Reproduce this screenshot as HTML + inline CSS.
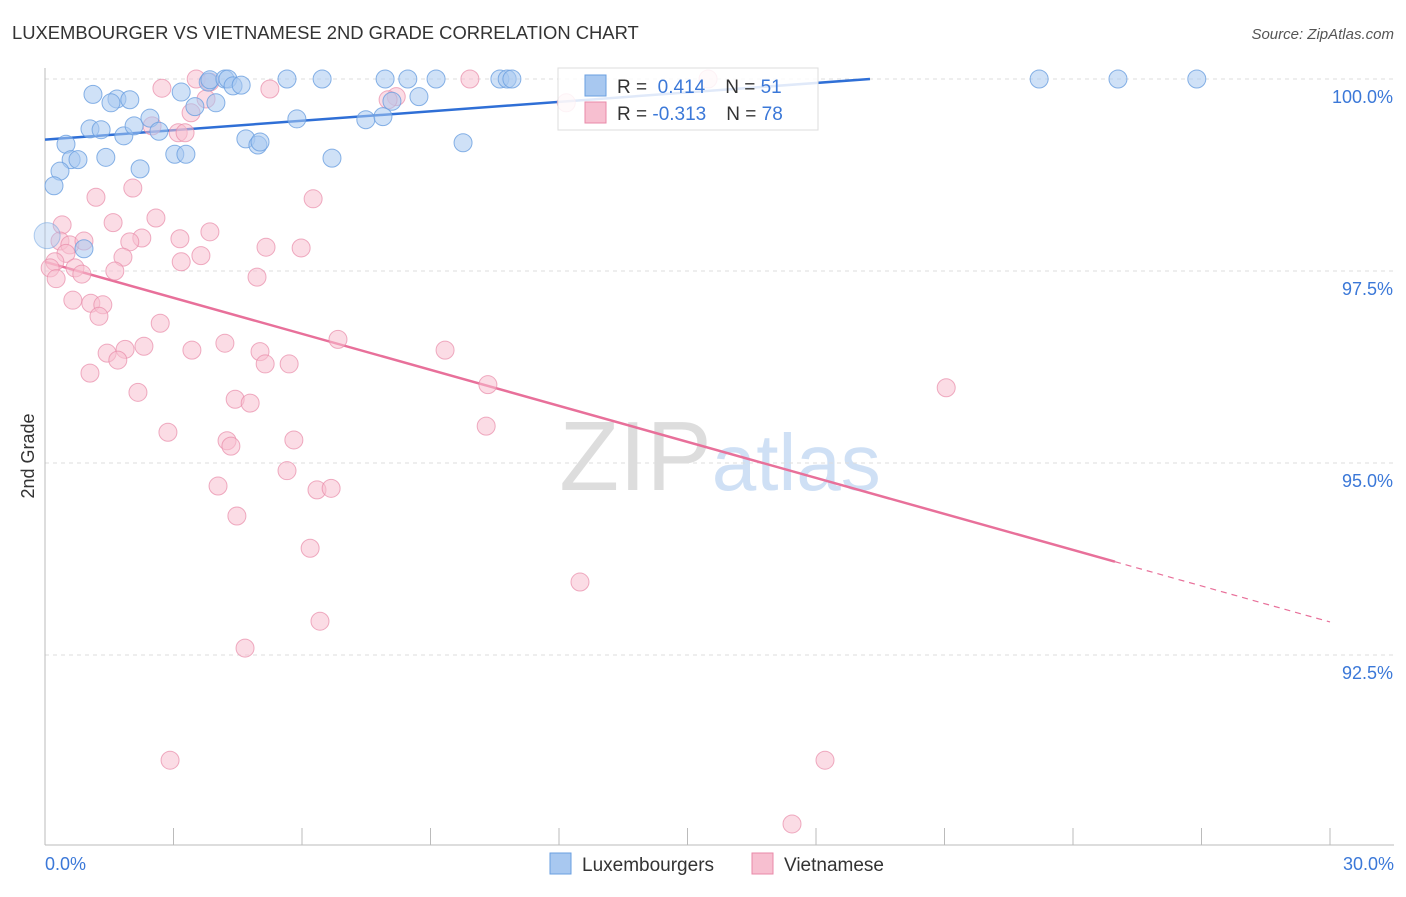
<!DOCTYPE html>
<html><head><meta charset="utf-8"><style>
body{margin:0;background:#fff;font-family:"Liberation Sans",sans-serif;}
svg text{font-family:"Liberation Sans",sans-serif;}
</style></head><body>
<svg id="chart" width="1406" height="892" viewBox="0 0 1406 892" xmlns="http://www.w3.org/2000/svg">
<text x="12" y="39" font-size="18.4" fill="#333">LUXEMBOURGER VS VIETNAMESE 2ND GRADE CORRELATION CHART</text>
<text x="1394" y="39" font-size="15" fill="#555" font-style="italic" text-anchor="end">Source: ZipAtlas.com</text>
<text x="720" y="490" font-size="98" text-anchor="middle" fill="#ddd" font-family="Liberation Serif"><tspan>ZIP</tspan><tspan fill="#cfe0f5" font-family="Liberation Sans" font-size="80">atlas</tspan></text>
<g id="grid"></g><g id="axes"></g><g id="trends"></g><g id="points"></g>
<text transform="translate(34,456) rotate(-90)" font-size="18" fill="#333" text-anchor="middle">2nd Grade</text>
<g>
<rect x="558" y="68" width="260" height="62" fill="#fff" fill-opacity="0.85" stroke="#ddd"/>
<rect x="585" y="75" width="21" height="21" fill="#a8c8f0" stroke="#6a9fe0"/>
<rect x="585" y="102" width="21" height="21" fill="#f7bfd0" stroke="#e88aa8"/>
<text x="617" y="93" font-size="19" fill="#333">R = <tspan fill="#3b78d8">&#160;0.414</tspan><tspan dx="20" fill="#333">N = </tspan><tspan fill="#3b78d8">51</tspan></text>
<text x="617" y="120" font-size="19" fill="#333">R = <tspan fill="#3b78d8">-0.313</tspan><tspan dx="20" fill="#333">N = </tspan><tspan fill="#3b78d8">78</tspan></text>
</g>
<g>
<rect x="550" y="853" width="21" height="21" fill="#a8c8f0" stroke="#6a9fe0"/>
<text x="582" y="871" font-size="19" fill="#333">Luxembourgers</text>
<rect x="752" y="853" width="21" height="21" fill="#f7bfd0" stroke="#e88aa8"/>
<text x="784" y="871" font-size="19" fill="#333">Vietnamese</text>
</g>
</svg>
<script>
const yTicks=[100,97.5,95,92.5];
const yTickLabels=["100.0%","97.5%","95.0%","92.5%"];
const xTickLabels=["0.0%","30.0%"];
const luxX=[1.12,1.68,1.98,1.54,1.05,1.31,0.49,0.61,0.77,1.42,0.35,0.21,1.84,2.08,2.45,2.66,2.22,3.03,3.29,3.18,3.50,3.99,3.81,3.85,4.20,4.27,4.39,4.58,4.69,4.97,5.02,5.65,5.88,6.47,6.70,7.49,7.89,7.94,8.10,8.47,8.73,9.13,9.76,10.62,10.79,10.90,0.91,23.21,25.05,26.89,0.05];
const luxY=[99.80,99.74,99.73,99.69,99.35,99.34,99.15,98.95,98.95,98.98,98.80,98.61,99.26,99.39,99.49,99.32,98.83,99.02,99.02,99.83,99.64,99.69,99.96,99.99,100,100,99.91,99.92,99.22,99.14,99.18,100,99.48,100,98.97,99.47,99.51,100,99.71,100,99.77,100,99.17,100,100,100,97.79,100,100,100,97.96];
const vieX=[2.73,3.53,3.85,5.25,3.76,3.41,3.11,3.27,2.50,2.05,1.19,1.59,2.59,0.40,6.26,3.85,2.26,1.98,3.15,0.35,0.58,0.91,5.16,5.98,3.64,1.82,3.18,0.49,0.23,0.12,0.70,0.86,1.63,0.26,4.95,0.65,1.07,1.35,1.26,2.69,6.84,2.31,1.87,1.45,1.70,3.43,4.20,5.02,5.14,5.70,9.34,1.05,2.17,10.34,21.04,4.44,4.79,2.87,4.25,4.34,5.81,10.30,5.65,4.04,6.35,6.68,4.48,6.19,12.49,6.42,4.67,2.92,18.21,17.44,8.20,8.01,9.92,15.48,12.17];
const vieY=[99.88,100,99.96,99.87,99.74,99.56,99.30,99.30,99.39,98.58,98.46,98.13,98.19,98.10,98.44,98.01,97.93,97.88,97.92,97.89,97.84,97.89,97.81,97.80,97.70,97.68,97.62,97.73,97.62,97.54,97.54,97.46,97.50,97.40,97.42,97.12,97.08,97.06,96.91,96.82,96.61,96.52,96.48,96.43,96.34,96.47,96.56,96.45,96.29,96.29,96.47,96.17,95.92,96.02,95.98,95.83,95.78,95.40,95.29,95.22,95.30,95.48,94.90,94.70,94.65,94.67,94.31,93.89,93.45,92.94,92.59,91.13,91.13,90.30,99.77,99.73,100,100,99.69];
const luxTrend=[99.21,100.0];
const luxTrendEnd=19.26;
const vieTrend=[97.62,92.93];
const vieSolidEnd=24.98;
const NS="http://www.w3.org/2000/svg";
const X=v=>45+v/30*1285;
const Y=v=>79+(100-v)*76.8;
function mk(tag,attrs,parent){const e=document.createElementNS(NS,tag);for(const k in attrs)e.setAttribute(k,attrs[k]);parent.appendChild(e);return e;}
const grid=document.getElementById('grid'),axes=document.getElementById('axes'),tr=document.getElementById('trends'),pts=document.getElementById('points');
yTicks.forEach((t,i)=>{
 const l=mk('line',{x1:45,x2:1394,y1:Y(t),y2:Y(t),stroke:'#ddd','stroke-dasharray':'4,4'},grid);
 
 
 const tx=mk('text',{x:1393,y:Y(t)+24,'font-size':18,fill:'#3b78d8','text-anchor':'end'},grid);
 tx.textContent=yTickLabels[i];
 
 
});
const ax=mk('line',{x1:45,x2:1394,y1:845,y2:845,stroke:'#bbb'},axes);


const ay=mk('line',{x1:45,x2:45,y1:68,y2:845,stroke:'#bbb'},axes);


for(let i=0;i<=10;i++){const t=mk('line',{x1:X(i*3),x2:X(i*3),y1:828,y2:845,stroke:'#bbb'},axes);
 
 }
[[0,'start',45],[30,'end',1394]].forEach((d,i)=>{const t=mk('text',{x:d[2],y:870,'font-size':18,fill:'#3b78d8','text-anchor':d[1]},axes);t.textContent=xTickLabels[i];
 
 });
vieX.forEach((x,i)=>{const c=mk('circle',{cx:X(x),cy:Y(vieY[i]),r:9,fill:'#f7bfd0','fill-opacity':0.55,stroke:'#e88aa8','stroke-opacity':0.7},pts);
 
 });
luxX.forEach((x,i)=>{const c=mk('circle',{cx:X(x),cy:Y(luxY[i]),r:i===50?13:9,fill:'#a8c8f0','fill-opacity':i===50?0.4:0.55,stroke:'#6a9fe0','stroke-opacity':i===50?0.5:0.8},pts);
 
 });
const vy=x=>vieTrend[0]+(vieTrend[1]-vieTrend[0])*x/30;
const l1=mk('line',{x1:X(0),y1:Y(luxTrend[0]),x2:X(luxTrendEnd),y2:Y(luxTrend[1]),stroke:'#2f6fd6','stroke-width':2.5},tr);


const l2=mk('line',{x1:X(0),y1:Y(vy(0)),x2:X(vieSolidEnd),y2:Y(vy(vieSolidEnd)),stroke:'#e8709a','stroke-width':2.5},tr);


const l3=mk('line',{x1:X(vieSolidEnd),y1:Y(vy(vieSolidEnd)),x2:X(30),y2:Y(vy(30)),stroke:'#e8709a','stroke-width':1.2,'stroke-dasharray':'6,5'},tr);


</script>
</body></html>
